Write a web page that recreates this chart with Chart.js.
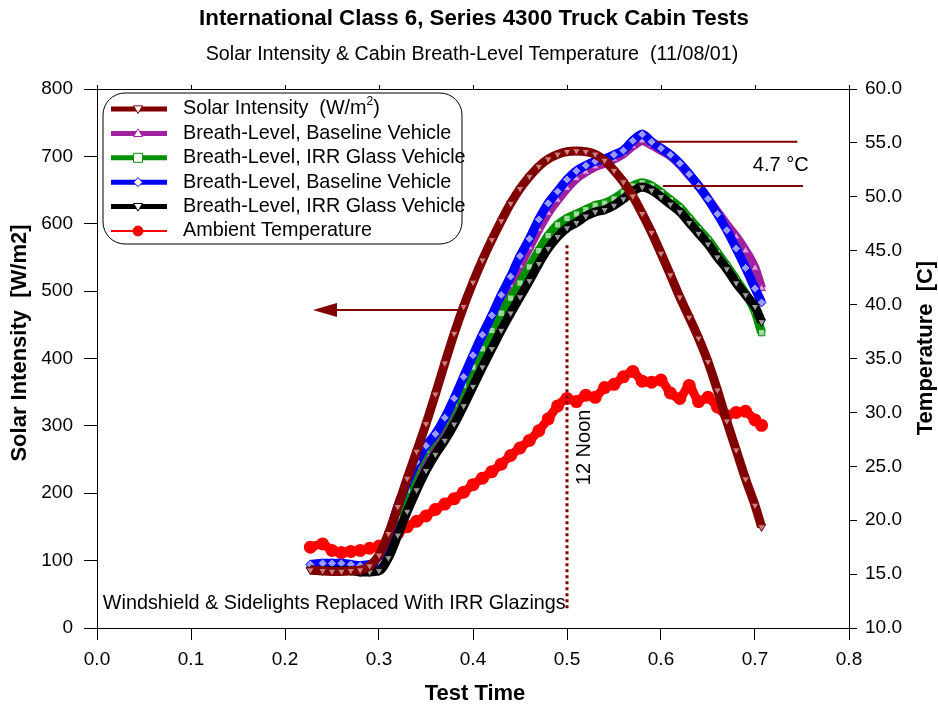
<!DOCTYPE html>
<html>
<head>
<meta charset="utf-8">
<script src="https://cdn.jsdelivr.net/npm/chart.js@4.4.0/dist/chart.umd.min.js"></script>
<style>
  body { margin: 0; background: #fff; }
  #wrap { width: 938px; height: 706px; position: relative; }
</style>
</head>
<body>
<div id="wrap"><canvas id="grafico"></canvas></div>
<script>
// ========= Datos =========
const testTime = [0.227, 0.24, 0.25, 0.26, 0.27, 0.28, 0.29, 0.30, 0.31, 0.32, 0.33, 0.34, 0.35, 0.36, 0.37, 0.38, 0.39,
    0.40, 0.41, 0.42, 0.43, 0.44, 0.45, 0.46, 0.47, 0.48, 0.49, 0.50, 0.51, 0.52, 0.53, 0.54, 0.55, 0.56, 0.57, 0.58,
    0.59, 0.60, 0.61, 0.62, 0.63, 0.64, 0.65, 0.66, 0.67, 0.68, 0.69, 0.70, 0.707];

const solarIntensity = [86, 85, 84, 84, 85, 86, 92, 108, 140, 180, 222, 262, 303, 347, 393, 437, 477,
    513, 546, 576, 604, 630, 652, 670, 685, 696, 703, 707, 708, 707, 703, 694, 679, 662, 641, 615,
    587, 556, 524, 491, 461, 430, 395, 353, 307, 264, 221, 182, 150];

const breathBaselineA = [15.8, 15.8, 15.8, 15.8, 15.8, 15.7, 15.7, 16.0, 17.8, 20.4, 22.6, 24.5, 26.1, 27.5, 29.0, 30.7, 32.6,
    34.6, 36.5, 38.3, 40.1, 41.8, 43.6, 45.3, 47.0, 48.5, 49.7, 50.8, 51.7, 52.3, 52.8, 53.1, 53.5, 54.0, 54.7, 55.2,
    54.8, 54.3, 53.8, 53.0, 52.0, 51.0, 49.8, 48.6, 47.4, 46.3, 45.0, 43.4, 41.5];

const breathIrrA = [15.7, 15.6, 15.6, 15.6, 15.6, 15.5, 15.5, 15.7, 17.5, 20.2, 22.8, 25.0, 26.5, 27.8, 29.2, 30.8, 32.5,
    34.2, 35.9, 37.6, 39.2, 40.6, 42.0, 43.5, 45.0, 46.4, 47.4, 48.0, 48.4, 48.8, 49.2, 49.4, 49.8, 50.4, 51.0, 51.3,
    51.0, 50.4, 49.7, 49.0, 48.0, 47.0, 46.0, 44.8, 43.6, 42.3, 41.0, 39.4, 37.4];

const breathBaselineB = [15.9, 16.0, 16.0, 16.0, 15.9, 15.8, 15.9, 16.2, 18.5, 21.3, 23.5, 25.4, 26.9, 28.0, 29.5, 31.3, 33.3,
    35.3, 37.2, 39.0, 40.9, 42.6, 44.5, 46.1, 47.9, 49.4, 50.5, 51.6, 52.4, 52.9, 53.3, 53.5, 53.9, 54.3, 55.2, 55.8,
    55.1, 54.5, 53.9, 53.1, 52.1, 51.0, 49.8, 48.4, 46.9, 45.2, 43.4, 41.5, 40.2];

const breathIrrB = [15.4, 15.3, 15.3, 15.3, 15.3, 15.2, 15.2, 15.3, 16.5, 18.6, 20.8, 22.8, 24.6, 26.1, 27.4, 28.9, 30.6,
    32.4, 34.2, 35.9, 37.6, 39.2, 40.7, 42.2, 43.8, 45.2, 46.3, 47.1, 47.6, 48.2, 48.6, 48.8, 49.2, 49.8, 50.5, 50.9,
    50.6, 50.0, 49.3, 48.6, 47.6, 46.6, 45.6, 44.4, 43.3, 42.0, 40.9, 39.8, 38.4];

const ambientTemp = [17.5, 17.8, 17.2, 17.0, 17.1, 17.2, 17.4, 17.6, 18.1, 18.8, 19.4, 19.9, 20.4, 21.0, 21.5, 22.0, 22.6,
    23.3, 23.9, 24.5, 25.2, 26.0, 26.7, 27.4, 28.3, 29.4, 30.6, 31.3, 31.0, 31.6, 31.4, 32.3, 32.6, 33.3, 33.8, 32.9,
    32.8, 33.0, 31.8, 31.3, 32.5, 31.0, 31.4, 30.5, 29.7, 30.0, 30.1, 29.3, 28.8];

const seriesNames = ["Solar Intensity  (W/m²)", "Breath-Level, Baseline Vehicle", "Breath-Level, IRR Glass Vehicle",
    "Breath-Level, Baseline Vehicle", "Breath-Level, IRR Glass Vehicle", "Ambient Temperature"];

const xTicks = [0, 0.1, 0.2, 0.3, 0.4, 0.5, 0.6, 0.7, 0.8];

const FONT = '"Liberation Sans", Arial, sans-serif';

// ========= Series =========
function serie(idx, valores, eje, color, relleno, estilo, rot, orden) {
    return {
        label: seriesNames[idx],
        data: testTime.map((t, i) => ({ x: t, y: valores[i] })),
        yAxisID: eje,
        borderColor: color,
        borderWidth: 9,
        pointStyle: estilo,
        rotation: rot,
        pointRadius: 4.5,
        pointBorderWidth: 1,
        pointBorderColor: color,
        pointBackgroundColor: relleno,
        order: orden,
        cubicInterpolationMode: 'monotone'
    };
}

const datasets = [
    serie(0, solarIntensity, 'y', '#800000', '#c98080', 'triangle', 180, 0),
    serie(1, breathBaselineA, 'y2', '#a020a0', '#dca0dc', 'triangle', 0, 5),
    serie(2, breathIrrA, 'y2', '#009000', '#a0d8a0', 'rect', 0, 4),
    serie(3, breathBaselineB, 'y2', '#0000ff', '#9a9aff', 'rectRot', 0, 2),
    serie(4, breathIrrB, 'y2', '#000000', '#9a9a9a', 'triangle', 180, 1),
    {
        label: seriesNames[5],
        data: testTime.map((t, i) => ({ x: t, y: ambientTemp[i] })),
        yAxisID: 'y2',
        borderColor: '#ff0000',
        borderWidth: 9,
        pointStyle: 'circle',
        pointRadius: 6.5,
        pointBorderWidth: 0,
        pointBackgroundColor: '#ff0000',
        order: 3,
        tension: 0.2
    }
];

// ========= Dibujo auxiliar =========
function marcador(ctx, estilo, x, y, r, color, relleno) {
    ctx.save();
    ctx.strokeStyle = color;
    ctx.fillStyle = relleno;
    ctx.lineWidth = 1;
    ctx.beginPath();
    if (estilo === 'trianguloAbajo') {
        ctx.moveTo(x - r, y - r * 0.7); ctx.lineTo(x + r, y - r * 0.7); ctx.lineTo(x, y + r);
    } else if (estilo === 'trianguloArriba') {
        ctx.moveTo(x - r, y + r * 0.7); ctx.lineTo(x + r, y + r * 0.7); ctx.lineTo(x, y - r);
    } else if (estilo === 'cuadro') {
        ctx.rect(x - r, y - r, 2 * r, 2 * r);
    } else if (estilo === 'rombo') {
        ctx.moveTo(x, y - r); ctx.lineTo(x + r, y); ctx.lineTo(x, y + r); ctx.lineTo(x - r, y);
    } else {
        ctx.arc(x, y, r, 0, Math.PI * 2);
    }
    ctx.closePath();
    ctx.fill();
    ctx.stroke();
    ctx.restore();
}

function cajaRedondeada(ctx, x, y, w, h, r) {
    ctx.beginPath();
    ctx.moveTo(x + r, y);
    ctx.arcTo(x + w, y, x + w, y + h, r);
    ctx.arcTo(x + w, y + h, x, y + h, r);
    ctx.arcTo(x, y + h, x, y, r);
    ctx.arcTo(x, y, x + w, y, r);
    ctx.closePath();
}

function textoRotado(ctx, texto, x, y, font) {
    ctx.save();
    ctx.translate(x, y);
    ctx.rotate(-Math.PI / 2);
    ctx.font = font;
    ctx.textAlign = 'center';
    ctx.textBaseline = 'middle';
    ctx.fillText(texto, 0, 0);
    ctx.restore();
}

const legendMarks = [
    { color: '#800000', estilo: 'trianguloAbajo', ancho: 5 },
    { color: '#a020a0', estilo: 'trianguloArriba', ancho: 5 },
    { color: '#009000', estilo: 'cuadro', ancho: 5 },
    { color: '#0000ff', estilo: 'rombo', ancho: 5 },
    { color: '#000000', estilo: 'trianguloAbajo', ancho: 5 },
    { color: '#ff0000', estilo: 'circulo', ancho: 2 }
];

const decoracion = {
    id: 'decoracion',
    afterDatasetsDraw(chart) {
        const ctx = chart.ctx;
        const xs = chart.scales.x, ys = chart.scales.y, y2 = chart.scales.y2;
        const maroon = '#800000';
        ctx.save();

        // Flecha hacia el eje izquierdo
        const ay = ys.getPixelForValue(472);
        const ax0 = xs.getPixelForValue(0.386), ax1 = xs.getPixelForValue(0.2298);
        ctx.strokeStyle = maroon; ctx.fillStyle = maroon; ctx.lineWidth = 2;
        ctx.beginPath(); ctx.moveTo(ax0, ay); ctx.lineTo(ax1 + 20, ay); ctx.stroke();
        ctx.beginPath(); ctx.moveTo(ax1, ay); ctx.lineTo(ax1 + 24, ay - 7); ctx.lineTo(ax1 + 24, ay + 7); ctx.closePath(); ctx.fill();

        // Lineas de diferencia 4.7 C
        ctx.lineWidth = 2;
        ctx.beginPath();
        ctx.moveTo(xs.getPixelForValue(0.596), y2.getPixelForValue(55.1));
        ctx.lineTo(xs.getPixelForValue(0.745), y2.getPixelForValue(55.1));
        ctx.moveTo(xs.getPixelForValue(0.602), y2.getPixelForValue(51.0));
        ctx.lineTo(xs.getPixelForValue(0.751), y2.getPixelForValue(51.0));
        ctx.stroke();
        ctx.fillStyle = '#000';
        ctx.font = '20px ' + FONT;
        ctx.textAlign = 'right'; ctx.textBaseline = 'middle';
        ctx.fillText('4.7 °C', xs.getPixelForValue(0.757), y2.getPixelForValue(52.9));

        // Mediodia
        const nx = xs.getPixelForValue(0.5);
        ctx.strokeStyle = maroon; ctx.lineWidth = 3; ctx.setLineDash([3, 3]);
        ctx.beginPath(); ctx.moveTo(nx, ys.getPixelForValue(568)); ctx.lineTo(nx, ys.getPixelForValue(27)); ctx.stroke();
        ctx.setLineDash([]);
        ctx.fillStyle = '#000';
        textoRotado(ctx, '12 Noon', xs.getPixelForValue(0.519), ys.getPixelForValue(268), '20px ' + FONT);

        // Nota inferior
        ctx.font = '19.8px ' + FONT;
        ctx.textAlign = 'left'; ctx.textBaseline = 'middle';
        ctx.fillText('Windshield & Sidelights Replaced With IRR Glazings', xs.getPixelForValue(0.0062), ys.getPixelForValue(37));
        ctx.restore();
    },
    afterDraw(chart) {
        const ctx = chart.ctx;
        const a = chart.chartArea;
        const xs = chart.scales.x;
        ctx.save();
        ctx.strokeStyle = '#000'; ctx.lineWidth = 1;
        ctx.beginPath();
        ctx.moveTo(a.left, a.top + 0.5); ctx.lineTo(a.right, a.top + 0.5);
        xTicks.forEach(t => {
            const px = Math.round(xs.getPixelForValue(t)) + 0.5;
            ctx.moveTo(px, a.top); ctx.lineTo(px, a.top - 4);
        });
        ctx.stroke();

        // Titulos
        ctx.fillStyle = '#000';
        ctx.textAlign = 'center'; ctx.textBaseline = 'middle';
        ctx.font = 'bold 22.3px ' + FONT;
        ctx.fillText('International Class 6, Series 4300 Truck Cabin Tests', 474, 19);
        ctx.font = '19.7px ' + FONT;
        ctx.fillText('Solar Intensity & Cabin Breath-Level Temperature  (11/08/01)', 472, 55);
        ctx.font = 'bold 22px ' + FONT;
        ctx.fillText('Test Time', 475, 694);
        textoRotado(ctx, 'Solar Intensity  [W/m2]', 20, 343, 'bold 22px ' + FONT);
        textoRotado(ctx, 'Temperature  [C]', 926, 348, 'bold 22px ' + FONT);

        // Leyenda
        const lx = 103, ly = 93, lw = 359, lh = 151;
        ctx.fillStyle = '#fff';
        cajaRedondeada(ctx, lx, ly, lw, lh, 22);
        ctx.fill();
        ctx.strokeStyle = '#000'; ctx.lineWidth = 1;
        ctx.stroke();
        seriesNames.forEach((nombre, i) => {
            const y = 109 + i * 24.4;
            const m = legendMarks[i];
            ctx.strokeStyle = m.color; ctx.lineWidth = m.ancho;
            ctx.beginPath(); ctx.moveTo(111, y); ctx.lineTo(167, y); ctx.stroke();
            if (m.estilo === 'circulo') marcador(ctx, m.estilo, 138, y, 5, m.color, m.color);
            else marcador(ctx, m.estilo, 138, y, 4.5, m.color, '#fff');
            ctx.fillStyle = '#000';
            ctx.textAlign = 'left'; ctx.textBaseline = 'middle';
            ctx.font = '19.8px ' + FONT;
            const partes = nombre.split('²');
            ctx.fillText(partes[0], 183, y);
            if (partes.length > 1) {
                let x = 183 + ctx.measureText(partes[0]).width;
                ctx.font = '12px ' + FONT;
                ctx.fillText('2', x, y - 7);
                x += ctx.measureText('2').width;
                ctx.font = '19.8px ' + FONT;
                ctx.fillText(partes[1], x, y);
            }
        });
        ctx.restore();
    }
};

// ========= Grafico =========
const tickFont = { family: FONT, size: 19 };

new Chart(document.getElementById('grafico'), {
    type: 'line',
    data: { datasets },
    plugins: [decoracion],
    options: {
        responsive: true,
        maintainAspectRatio: false,
        animation: false,
        layout: { padding: { top: 89, left: 0, right: 0, bottom: 0 } },
        plugins: { legend: { display: false }, tooltip: { enabled: false }, title: { display: false } },
        scales: {
            x: {
                type: 'linear', min: 0, max: 0.8,
                afterBuildTicks: s => { s.ticks = xTicks.map(v => ({ value: v })); },
                afterFit: s => { s.height = 78; },
                ticks: { font: tickFont, color: '#000', padding: 8, maxRotation: 0, callback: v => v.toFixed(1) },
                grid: { drawOnChartArea: false, tickLength: 12, color: '#000' },
                border: { color: '#000' }
            },
            y: {
                position: 'left', min: 0, max: 800,
                afterFit: s => { s.width = 97; },
                ticks: { stepSize: 100, font: tickFont, color: '#000', padding: 11 },
                grid: { drawOnChartArea: false, tickLength: 13, color: '#000' },
                border: { color: '#000' }
            },
            y2: {
                position: 'right', min: 10, max: 60,
                afterFit: s => { s.width = 89; },
                ticks: { stepSize: 5, font: tickFont, color: '#000', padding: 8, callback: v => v.toFixed(1) },
                grid: { drawOnChartArea: false, tickLength: 8, color: '#000' },
                border: { color: '#000' }
            }
        }
    }
});
</script>
</body>
</html>
